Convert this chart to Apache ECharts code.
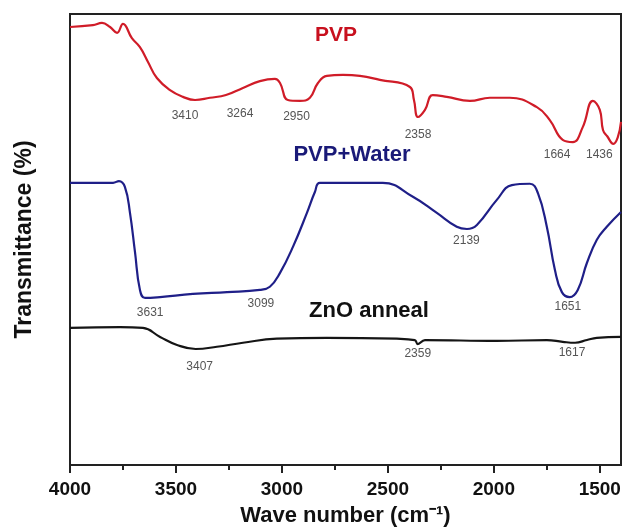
<!DOCTYPE html>
<html>
<head>
<meta charset="utf-8">
<script src="https://cdn.jsdelivr.net/npm/echarts@6/dist/echarts.min.js"></script>
<style>
  html, body { margin: 0; padding: 0; background: #fff; }
  #chart { width: 624px; height: 527px; }
</style>
</head>
<body>
<div id="chart"></div>
<script>
// wave number (cm-1), transmittance (arbitrary, curves stacked)
const pvp = [
  [4000, 97.1], [3892, 97.5], [3849, 98.0], [3811, 97.1], [3778, 95.8], [3750, 97.8],
  [3708, 94.6], [3670, 92.6], [3632, 89.3], [3590, 85.7], [3528, 83.0], [3467, 81.5],
  [3410, 80.8], [3340, 81.3], [3264, 81.9], [3184, 83.5], [3104, 85.0], [3033, 85.5],
  [3009, 84.6], [2972, 80.8], [2915, 80.6], [2868, 81.3], [2830, 84.6], [2788, 86.2],
  [2712, 86.4], [2632, 86.2], [2538, 85.3], [2396, 83.7], [2377, 80.8], [2358, 77.0],
  [2325, 78.6], [2288, 81.9], [2222, 81.5], [2113, 80.6], [2019, 81.3], [1925, 81.3],
  [1797, 79.2], [1736, 76.3], [1675, 71.9], [1627, 71.4], [1580, 74.8], [1533, 80.6],
  [1500, 78.6], [1485, 74.1], [1465, 72.7], [1436, 71.0], [1415, 72.5], [1400, 75.9]
];
const pvpWater = [
  [4000, 62.3], [3797, 62.3], [3769, 62.7], [3741, 61.4], [3717, 55.6], [3693, 46.7],
  [3670, 38.4], [3646, 36.6], [3575, 36.8], [3420, 37.5], [3259, 37.9], [3104, 38.4],
  [3057, 39.1], [3009, 42.2], [2948, 48.0], [2882, 55.6], [2844, 60.3], [2821, 62.3],
  [2524, 62.3], [2382, 59.2], [2269, 55.6], [2175, 52.5], [2127, 52.0], [2080, 52.9],
  [1986, 58.5], [1915, 61.8], [1830, 62.1], [1792, 60.0], [1750, 52.5], [1712, 42.9],
  [1679, 37.9], [1642, 36.8], [1604, 38.4], [1561, 44.4], [1514, 49.6], [1467, 52.5],
  [1400, 55.8]
];
const znoAnneal = [
  [4000, 29.9], [3764, 30.1], [3656, 29.9], [3575, 27.9], [3495, 26.1], [3407, 25.2],
  [3307, 25.7], [3184, 26.6], [3024, 27.5], [2788, 27.7], [2458, 27.5], [2373, 27.2],
  [2359, 26.3], [2325, 27.2], [1986, 27.0], [1750, 27.2], [1675, 26.8], [1617, 26.6],
  [1561, 27.2], [1514, 27.7], [1400, 27.9]
];

// labelled peaks: [wave number, transmittance at the peak]
const pvpPeaks = [[3410, 80.8], [3264, 81.9], [2950, 80.6], [2358, 77.0], [1664, 71.4], [1436, 71.0]];
const pvpWaterPeaks = [[3631, 36.6], [3099, 38.4], [2139, 52.0], [1651, 36.8]];
const znoPeaks = [[3407, 25.2], [2359, 26.3], [1617, 26.6]];

const majorTicks = [4000, 3500, 3000, 2500, 2000, 1500];
const minorTicks = [3750, 3250, 2750, 2250, 1750];

// label offsets (px) from each peak
const pvpShift = [[-10, 16], [14, 19], [4, 16], [0, 18], [-8, 13], [-14, 11]];
const waterShift = [[2, 15], [0, 14], [2, 12], [0, 10]];
const znoShift = [[4, 18], [0, 10], [-3, 10]];

const FONT = '"Liberation Sans", Arial, sans-serif';

const chart = echarts.init(document.getElementById('chart'));

function peakMarks(peaks, shifts) {
  return {
    symbol: 'circle',
    symbolSize: 0,
    data: peaks.map((p, i) => ({
      coord: p,
      value: p[0],
      label: {
        show: true,
        position: 'inside',
        offset: shifts[i],
        formatter: String(p[0]),
        fontFamily: FONT,
        fontSize: 12,
        color: '#555'
      }
    }))
  };
}

function curve(name, data, color, peaks, shifts) {
  return {
    name: name,
    type: 'line',
    data: data,
    showSymbol: false,
    smooth: 0.45,
    lineStyle: { color: color, width: 2.2 },
    itemStyle: { color: color },
    markPoint: peakMarks(peaks, shifts),
    silent: true,
    animation: false
  };
}

const option = {
  backgroundColor: '#fff',
  animation: false,
  grid: {
    left: 70, right: 3, top: 14, bottom: 62,
    outerBoundsMode: 'none',
    containLabel: false,
    show: true, borderColor: '#222', borderWidth: 2
  },
  xAxis: [{
    type: 'value',
    inverse: true,
    min: 1400,
    max: 4000,
    name: 'Wave number (cm\u207B\u00B9)',
    nameLocation: 'middle',
    nameGap: 40,
    nameTextStyle: { fontFamily: FONT, fontSize: 22, fontWeight: 'bold', color: '#111' },
    axisLine: { onZero: false, lineStyle: { color: '#222', width: 2 } },
    axisTick: { customValues: majorTicks, length: 8, lineStyle: { color: '#222', width: 2 } },
    axisLabel: {
      customValues: majorTicks,
      formatter: v => String(v),
      margin: 15,
      fontFamily: FONT,
      fontSize: 19,
      fontWeight: 'bold',
      color: '#111'
    },
    splitLine: { show: false }
  }, {
    type: 'value',
    inverse: true,
    min: 1400,
    max: 4000,
    position: 'bottom',
    offset: 0,
    axisLine: { show: false, onZero: false },
    axisTick: { customValues: minorTicks, length: 5, lineStyle: { color: '#222', width: 2 } },
    axisLabel: { show: false },
    splitLine: { show: false }
  }],
  yAxis: {
    type: 'value',
    min: -0.7,
    max: 100,
    name: 'Transmittance (%)',
    nameLocation: 'middle',
    nameGap: 34,
    nameTextStyle: { fontFamily: FONT, fontSize: 23, fontWeight: 'bold', color: '#111' },
    axisLine: { show: true, lineStyle: { color: '#222', width: 2 } },
    axisTick: { show: false },
    axisLabel: { show: false },
    splitLine: { show: false }
  },
  graphic: [
    { type: 'text', x: 336, y: 35, style: { text: 'PVP', align: 'center', verticalAlign: 'middle', fill: '#c8101e', font: 'bold 21px ' + FONT } },
    { type: 'text', x: 352, y: 155, style: { text: 'PVP+Water', align: 'center', verticalAlign: 'middle', fill: '#1a1a78', font: 'bold 22px ' + FONT } },
    { type: 'text', x: 369, y: 311, style: { text: 'ZnO anneal', align: 'center', verticalAlign: 'middle', fill: '#111', font: 'bold 22px ' + FONT } }
  ],
  series: [
    curve('PVP', pvp, '#d01c28', pvpPeaks, pvpShift),
    curve('PVP+Water', pvpWater, '#1f1f88', pvpWaterPeaks, waterShift),
    curve('ZnO anneal', znoAnneal, '#151515', znoPeaks, znoShift)
  ]
};

chart.setOption(option);
</script>
</body>
</html>
